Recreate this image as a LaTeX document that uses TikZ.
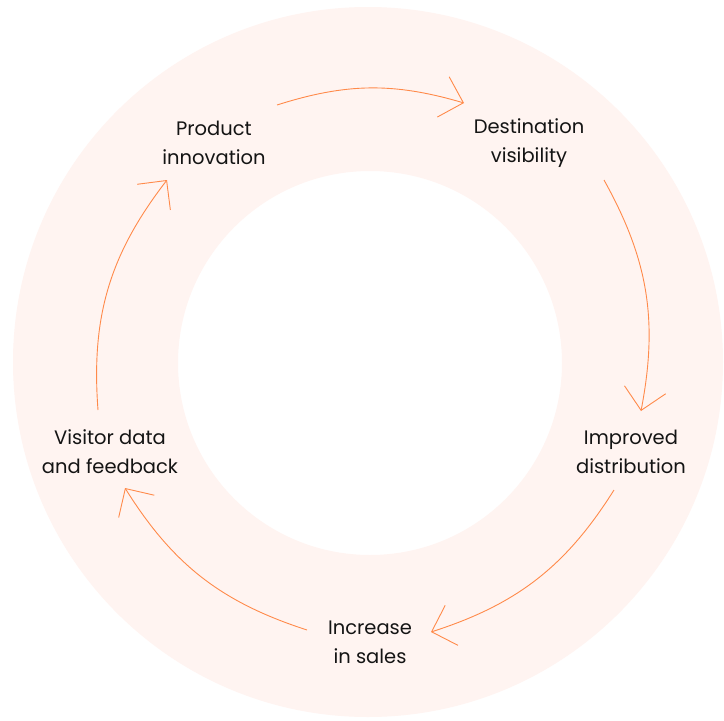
\documentclass[tikz,border=0pt]{standalone}
\usepackage{fontspec}
\setmainfont{Poppins}
\usetikzlibrary{arrows.meta}
\definecolor{ringfill}{HTML}{FFF4F1}
\definecolor{arrowc}{HTML}{FF8A4A}
\definecolor{txt}{HTML}{141414}
\begin{document}
\begin{tikzpicture}[x=1pt,y=-1pt,
  lbl/.style={align=center, font=\fontsize{19.5}{29}\selectfont, text=txt, inner sep=0pt},
  cyc/.style={draw=arrowc, line width=0.9pt, -{Straight Barb[length=21pt,width=42pt,line width=0.9pt]}}]
\fill[white] (0,0) rectangle (724,721);
\useasboundingbox (0,0) rectangle (724,721);
\fill[ringfill, even odd rule] (368,362) circle[radius=355pt] (370,363) circle[radius=192pt];
\node[lbl] (n1) at (214,143) {Product\\innovation};
\node[lbl] (n2) at (529,143) {Destination\\visibility};
\node[lbl] (n3) at (631,452) {Improved\\distribution};
\node[lbl] (n4) at (370,642) {Increase\\in sales};
\node[lbl] (n5) at (110,452) {Visitor data\\and feedback};
\coordinate (a1s) at (277,105); \coordinate (a1e) at (464,103);
\coordinate (a2s) at (604,180); \coordinate (a2e) at (641,411);
\coordinate (a3s) at (614,490); \coordinate (a3e) at (431,632);
\coordinate (a4s) at (307,630); \coordinate (a4e) at (125,488);
\coordinate (a5s) at (98,410);  \coordinate (a5e) at (167,180);
\draw[cyc] (a1s) to[bend left=17] (a1e);
\draw[cyc] (a2s) to[bend left=20] (a2e);
\draw[cyc] (a3s) to[bend left=20] (a3e);
\draw[cyc] (a4s) to[bend left=20] (a4e);
\draw[cyc] (a5s) to[bend left=21] (a5e);
\end{tikzpicture}
\end{document}
